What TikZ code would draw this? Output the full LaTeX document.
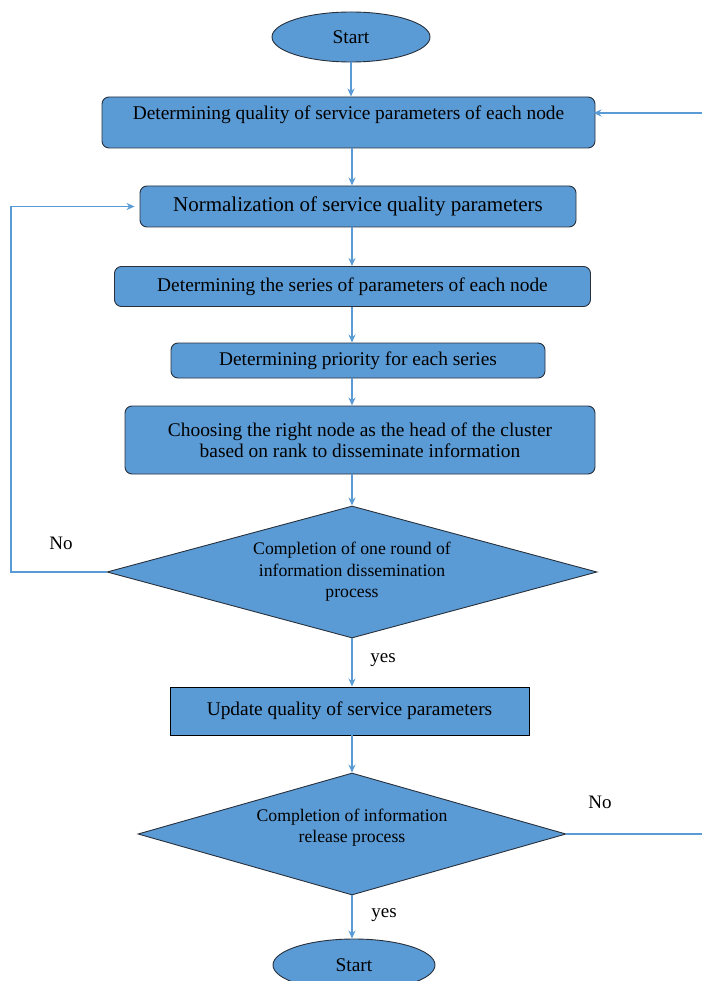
\documentclass[tikz,border=0pt]{standalone}
\usepackage{fontspec}
\setmainfont{Liberation Serif}
\usetikzlibrary{calc,positioning,shapes.geometric,arrows.meta}

\definecolor{boxblue}{RGB}{91,155,213}
\definecolor{edgegray}{RGB}{40,48,60}

\begin{document}
\begin{tikzpicture}[x=1pt,y=-1pt,>={Stealth[length=8pt,width=7pt]},
	box/.style={rectangle,rounded corners=7pt,draw=edgegray,line width=0.9pt,fill=boxblue,inner sep=3pt,align=center,font=\fontsize{19.4}{21}\selectfont},
	term/.style={ellipse,draw=edgegray,line width=0.9pt,fill=boxblue,inner sep=0pt,font=\fontsize{19.4}{21}\selectfont},
	test/.style={diamond,aspect=3.7,draw=edgegray,line width=0.9pt,fill=boxblue,inner sep=0pt,align=center,font=\fontsize{17.7}{21.5}\selectfont},
	flow/.style={->,draw=boxblue,line width=1.6pt},
	lbl/.style={font=\fontsize{19}{21}\selectfont}
	]

	\useasboundingbox (0,0) rectangle (702,981);

	\coordinate (axis) at (352,0);
	\coordinate (lt) at (11,0);

	\node[term,minimum width=158pt,minimum height=50pt] (start) at (351,37) {Start};
	\node[box,minimum width=493pt,minimum height=51pt,text depth=20pt] (qos) at (348.5,122.5) {Determining quality of service parameters of each node};
	\node[box,minimum width=436pt,minimum height=41pt,font=\fontsize{21}{23}\selectfont] (norm) at (358,206.5) {Normalization of service quality parameters};
	\node[box,minimum width=476pt,minimum height=40pt] (series) at (352.5,286.5) {Determining the series of parameters of each node};
	\node[box,minimum width=374pt,minimum height=35pt] (prio) at (358,360.5) {Determining priority for each series};
	\node[box,minimum width=470pt,minimum height=68pt] (head) at (360,440) {Choosing the right node as the head of the cluster\\based on rank to disseminate information};
	\node[test,minimum width=490pt,minimum height=132pt] (round) at (352,572) {Completion of one round of\\information dissemination\\process};
	\node[box,rounded corners=0pt,draw=black,minimum width=359pt,minimum height=48pt] (upd) at (349.5,711) {Update quality of service parameters};
	\node[test,minimum width=428pt,minimum height=122pt,text depth=16pt] (release) at (352,834) {Completion of information\\release process};
	\node[term,minimum width=162pt,minimum height=52pt] (stop) at (354,965) {Start};

	\draw[flow] (start) -- (start |- qos.north);
	\draw[flow] (qos.south -| axis) -- (norm.north -| axis);
	\draw[flow] (norm.south -| axis) -- (series.north -| axis);
	\draw[flow] (series.south -| axis) -- (prio.north -| axis);
	\draw[flow] (prio.south -| axis) -- (head.north -| axis);
	\draw[flow] (head.south -| axis) -- (round.north);
	\draw[flow] (round.south) -- (upd.north -| round.south);
	\draw[flow] (upd.south -| axis) -- (release.north);
	\draw[flow] (release.south) -- (stop.north -| release.south);

	% loop back
	\draw[flow,shorten >=5pt] (round.west) -- (round.west -| lt) |- (norm.west);
	\coordinate (re) at (702,837);
	\coordinate (rs) at (702,113);
	\draw[draw=boxblue,line width=1.6pt] (release.east) -- (release.east -| re);
	\draw[flow,shorten >=-2pt] (rs) -- (rs -| qos.east);

	% labels
	\node[lbl] (no1) at (61,543) {No};
	\node[lbl] (no2) at (600,802) {No};
	\node[lbl] (yes1) at (383,660) {yes};
	\node[lbl] (yes2) at (384,915) {yes};

\end{tikzpicture}
\end{document}
